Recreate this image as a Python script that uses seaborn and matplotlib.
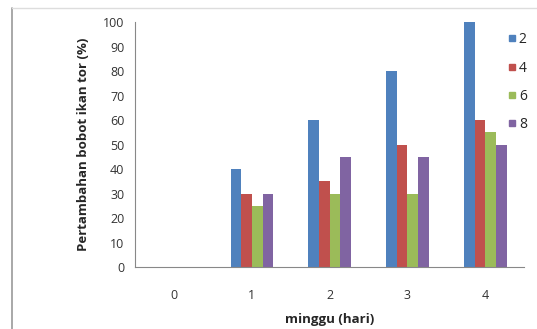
import pandas as pd
import matplotlib.pyplot as plt
import seaborn as sns
from matplotlib.lines import Line2D

weeks = ["0", "1", "2", "3", "4"]
series_names = ["2", "4", "6", "8"]
s2 = [0, 40, 60, 80, 100]
s4 = [0, 30, 35, 50, 60]
s6 = [0, 25, 30, 30, 55]
s8 = [0, 30, 45, 45, 50]
colors = ["#4F81BD", "#C0504D", "#9BBB59", "#8064A2"]

rows = []
for name, vals in zip(series_names, [s2, s4, s6, s8]):
    for w, v in zip(weeks, vals):
        rows.append({"minggu": w, "seri": name, "nilai": v})
df = pd.DataFrame(rows)

sns.set_style("white")
plt.rcParams["font.family"] = ["Open Sans", "DejaVu Sans"]

fig = plt.figure(figsize=(5.37, 3.29), dpi=100)
ax = fig.add_axes([0.252, 0.188, 0.724, 0.745])

sns.barplot(data=df, x="minggu", y="nilai", hue="seri", palette=colors,
            width=0.55, saturation=1, linewidth=0, ax=ax, legend=False)

ax.set_ylim(0, 100)
ax.set_yticks(range(0, 101, 10))
ax.set_xlim(-0.5, 4.5)
ax.tick_params(axis="y", length=3, color="#888888", labelsize=9, labelcolor="#333333", pad=5)
ax.tick_params(axis="x", length=0, labelsize=9, labelcolor="#333333", pad=16)
for s in ["top", "right"]:
    ax.spines[s].set_visible(False)
ax.spines["left"].set_color("#888888")
ax.spines["bottom"].set_color("#888888")
ax.set_xlabel("minggu (hari)", fontsize=9.5, fontweight="bold", labelpad=8)
ax.set_ylabel("Pertambahan bobot ikan tor (%)", fontsize=9.5, fontweight="bold", labelpad=9)

handles = [Line2D([], [], marker="s", linestyle="", markersize=5, color=c) for c in colors]
fig.legend(handles, series_names, loc="upper left", bbox_to_anchor=(0.93, 0.927),
           frameon=False, fontsize=10, handletextpad=0.2, labelspacing=0.95,
           handlelength=0.6, borderaxespad=0.2)

# outer frame of the original (cropped) chart box
fig.add_artist(Line2D([12 / 537, 12 / 537], [0, 1 - 8 / 329], color="#999999", lw=1.2))
fig.add_artist(Line2D([12 / 537, 1], [1 - 8 / 329, 1 - 8 / 329], color="#dddddd", lw=1))

plt.savefig("out.png", dpi=100)
